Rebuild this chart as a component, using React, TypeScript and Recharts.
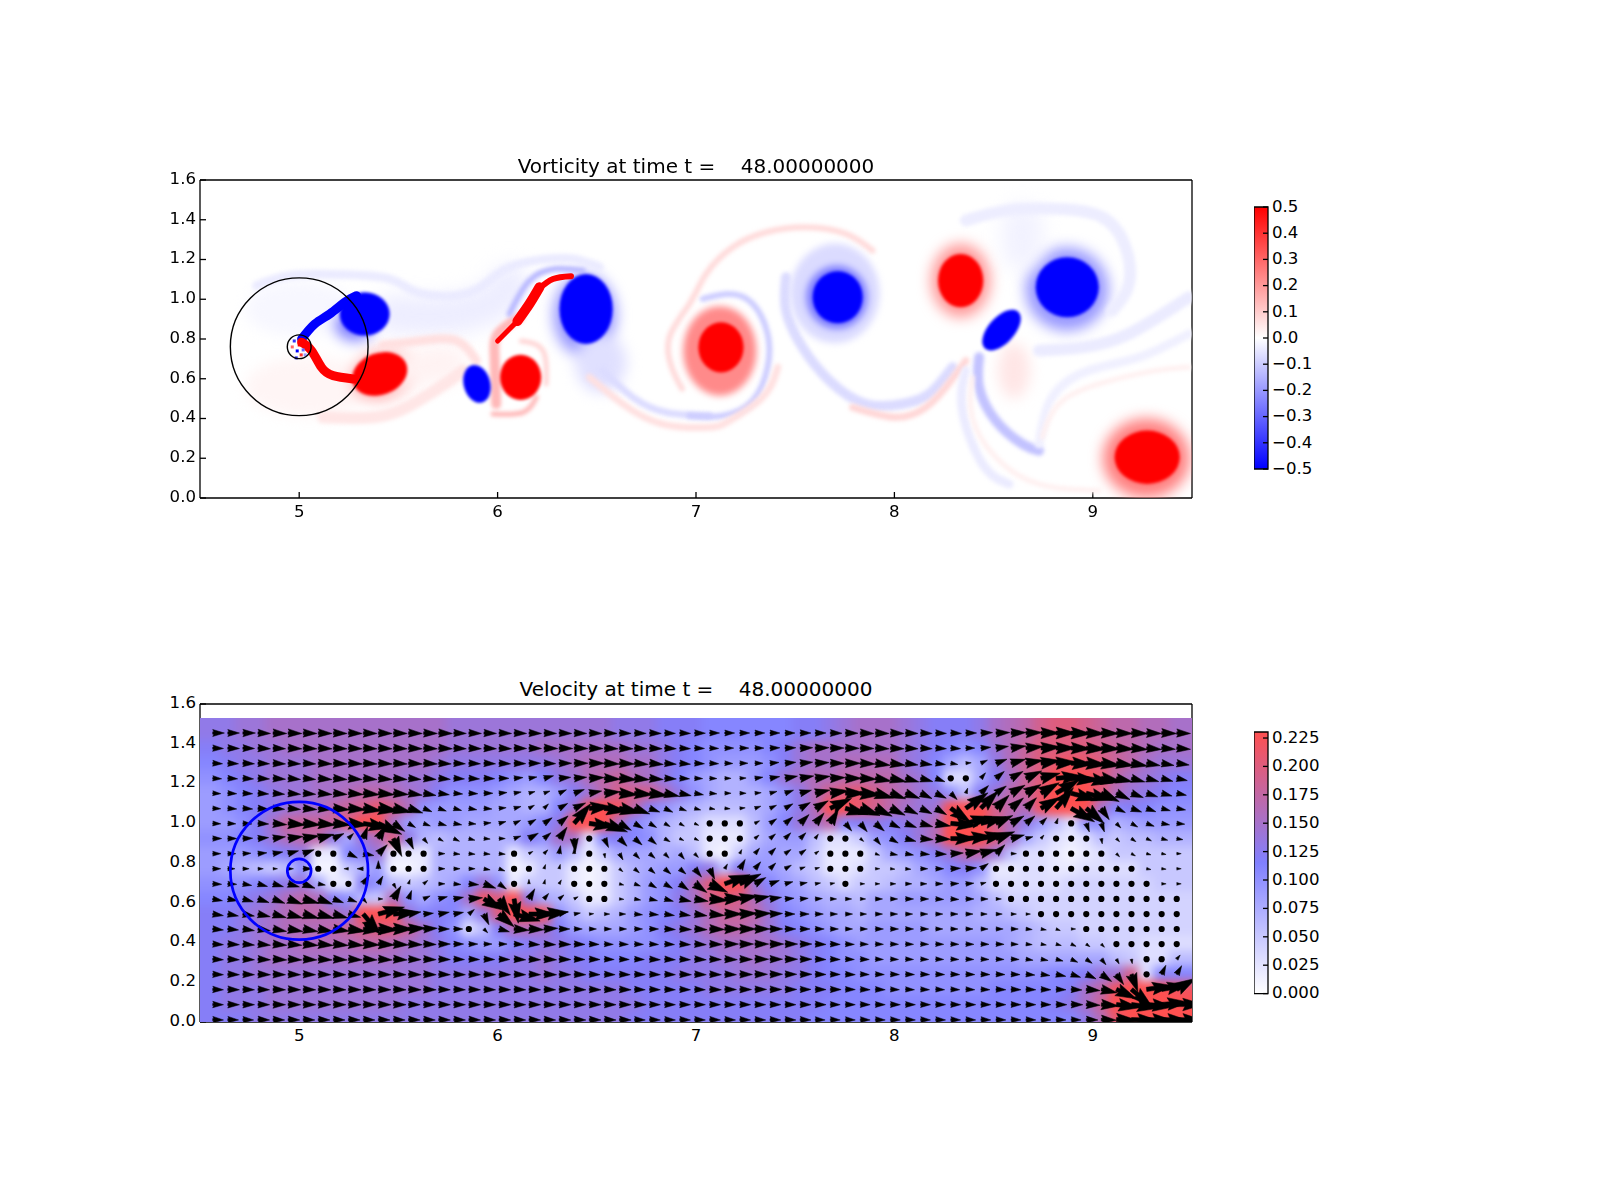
import React from 'react';
import { ScatterChart, Scatter, XAxis, YAxis, BarChart, Bar } from 'recharts';

const xTicks = [5, 6, 7, 8, 9];
const yTicks = [0, 0.2, 0.4, 0.6, 0.8, 1.0, 1.2, 1.4, 1.6];
const vortTicks = [-0.5, -0.4, -0.3, -0.2, -0.1, 0, 0.1, 0.2, 0.3, 0.4, 0.5];
const speedTicks = [0, 0.025, 0.05, 0.075, 0.1, 0.125, 0.15, 0.175, 0.2, 0.225];

// quiver grid
const colX = [
  4.564, 4.64, 4.716, 4.792, 4.868, 4.944, 5.02, 5.096, 5.172, 5.248, 5.323, 5.399, 5.475, 5.551, 5.627, 5.703, 5.779,
  5.855, 5.931, 6.007, 6.083, 6.158, 6.234, 6.31, 6.386, 6.462, 6.538, 6.614, 6.69, 6.766, 6.842, 6.918, 6.993, 7.069,
  7.145, 7.221, 7.297, 7.373, 7.449, 7.525, 7.601, 7.677, 7.753, 7.828, 7.904, 7.98, 8.056, 8.132, 8.208, 8.284, 8.36,
  8.436, 8.512, 8.588, 8.663, 8.739, 8.815, 8.891, 8.967, 9.043, 9.119, 9.195, 9.271, 9.347, 9.423,
];
const rowY = [1.454, 1.378, 1.302, 1.226, 1.151, 1.075, 0.999, 0.923, 0.847, 0.771, 0.695, 0.619, 0.543, 0.468, 0.392, 0.316, 0.24, 0.164, 0.088, 0.012];

// speed x 100, top row first
const speedRows = [
  [13,13,14,14,15,15,15,15,15,15,15,15,15,15,15,15,14,14,14,14,14,14, 14,14,14,14,14,13,13,13,12,12,12,11,11,11,11,11,11,12,12,13,14,15, 15,15,14,13,12,12,12,13,15,16,17,19,20,20,19,18,17,17,16,16,15],
  [12,13,13,14,14,15,15,15,15,15,15,15,15,15,15,15,14,14,14,14,14,14, 15,15,15,15,15,15,14,14,13,12,11,10,10,10,10,11,12,14,15,15,15,15, 15,15,14,13,12,11,10,11,14,16,18,20,20,20,20,19,18,17,16,15,15],
  [11,12,13,13,14,14,14,15,15,15,15,15,15,15,15,14,13,13,13,13,13,13, 13,14,15,16,16,16,15,15,13,12,11,10,9,9,9,10,12,14,15,15,16,16, 16,16,14,13,11,8,6,8,13,16,18,20,21,22,21,20,18,17,15,14,14],
  [10,11,12,13,14,14,14,15,15,15,15,15,15,14,14,13,12,12,12,11,10,9, 11,13,14,16,17,18,16,15,13,11,9,8,7,7,9,11,14,15,16,16,17,17, 17,17,15,14,11,3,3,8,12,15,18,20,26,26,26,21,17,15,14,13,12],
  [9,10,11,12,13,14,14,15,15,16,17,17,16,15,14,12,10,10,10,9,8,7, 7,9,12,14,17,19,19,19,16,13,10,8,7,7,7,8,10,13,16,19,20,21, 19,17,16,14,13,10,6,12,14,17,18,21,26,26,26,20,16,14,13,12,11],
  [9,10,11,12,13,14,15,15,17,18,19,21,19,16,10,9,9,9,9,8,8,7, 7,11,14,22,23,22,17,12,10,8,7,6,6,6,7,8,10,13,16,23,23,21, 19,17,15,14,14,24,26,24,19,17,16,22,26,26,23,15,11,12,11,10,10],
  [9,9,10,12,15,18,18,18,18,20,26,25,15,9,8,9,9,8,8,8,8,9, 11,13,25,25,24,15,11,9,7,6,5,3,3,3,6,9,11,14,15,17,11,12, 13,12,13,14,16,26,26,25,19,16,13,9,6,3,10,10,7,8,9,9,9],
  [10,10,11,12,14,16,17,17,13,8,14,16,20,13,7,6,7,7,7,7,8,12, 10,15,15,3,11,12,11,10,7,5,5,2,2,2,6,8,9,9,6,3,3,5, 9,10,12,14,16,25,26,25,20,15,8,5,3,2,3,6,5,6,6,7,7],
  [9,9,9,10,11,12,13,2,2,11,12,14,2,2,2,7,7,7,7,7,2,5, 6,9,6,2,5,8,8,8,7,8,6,2,1,5,8,9,8,8,5,2,2,2, 5,8,9,10,12,14,17,17,14,6,3,3,2,1,2,3,5,5,5,5,5],
  [9,8,7,6,5,6,10,1,1,5,7,9,1,1,2,7,7,7,7,7,1,2, 5,5,2,1,2,5,7,8,9,9,12,13,6,12,10,9,8,6,5,2,2,3, 5,5,6,8,9,11,12,10,2,2,3,3,2,2,3,3,3,3,5,5,5],
  [10,10,10,11,12,13,14,8,2,2,12,10,6,5,6,7,8,11,14,10,2,5, 5,5,2,1,2,5,7,9,10,12,16,20,26,23,14,11,9,8,6,5,3,5, 5,6,7,7,8,9,9,6,3,3,3,3,3,4,4,4,4,4,4,5,5],
  [11,11,12,13,14,16,17,16,12,10,6,5,16,10,8,10,11,15,22,20,24,13, 8,7,5,2,2,5,7,9,10,13,15,19,20,19,16,13,10,9,8,7,7,6, 8,8,9,9,9,9,9,8,6,4,4,4,4,4,4,4,4,4,4,4,4],
  [12,12,13,14,15,16,17,17,16,14,26,26,24,14,11,12,11,8,13,20,26,26, 24,10,7,5,6,7,9,10,11,12,14,16,18,18,17,14,11,10,9,8,8,7, 8,8,8,8,8,8,8,7,7,6,5,4,4,4,4,4,4,4,4,4,4],
  [12,12,13,14,15,16,16,16,17,18,19,20,20,18,15,12,10,3,6,12,16,16, 15,12,9,8,8,8,9,10,12,13,14,16,17,17,16,14,12,11,10,9,8,8, 9,9,9,9,8,8,8,8,8,8,7,6,5,5,4,4,4,4,4,4,4],
  [12,13,13,14,15,15,16,16,16,16,17,17,16,15,14,13,11,10,9,9,11,12, 13,13,12,11,10,10,10,10,11,12,13,14,15,15,15,15,14,13,12,11,10,9, 9,9,9,9,9,9,9,9,9,8,7,6,6,6,5,5,4,4,3,3,3],
  [12,13,13,14,15,15,15,15,15,15,15,15,15,14,14,13,12,12,12,12,13,13, 14,13,12,12,11,11,11,12,12,12,13,13,14,14,15,14,14,13,12,11,10,10, 9,9,9,9,9,9,9,9,9,9,8,8,8,8,8,8,6,5,3,3,6],
  [12,13,13,14,14,14,14,14,14,14,14,14,14,14,14,13,13,13,13,13,13,13, 14,13,13,12,12,12,12,12,12,13,13,13,13,14,14,14,13,13,12,11,11,10, 10,10,10,10,10,10,10,10,10,10,10,10,11,11,12,14,14,19,3,11,11],
  [12,13,13,13,14,14,14,14,14,14,14,14,14,14,14,13,13,13,13,13,13,13, 13,13,13,13,13,13,12,12,12,12,12,13,13,13,13,13,13,12,12,12,11,11, 11,10,10,10,10,10,10,10,11,11,11,11,11,12,15,17,22,26,26,26,22],
  [12,13,13,13,14,14,14,14,14,14,14,14,14,13,13,13,13,13,13,13,13,13, 13,13,13,13,13,13,13,12,12,12,12,12,12,12,12,12,12,12,12,11,11,11, 11,11,11,11,11,11,11,11,11,11,11,11,12,13,15,18,23,26,26,26,26],
  [12,12,12,13,13,13,13,13,13,13,13,13,13,13,13,13,13,13,13,13,13,13, 13,13,13,13,13,13,12,12,12,12,12,12,12,12,12,12,12,12,11,11,11,11, 11,11,11,11,11,11,11,11,11,11,11,11,11,11,13,16,21,26,26,26,26],
];

// arrow direction in degrees, 0 = to the right, top row first
const angleRows = [
  [0,0,0,-2,-2,-2,-2,-2,-2,-2,-2,-2,-2,-2,-2,-2,-2,-2,-2,-2,-2,-2, -2,-2,-2,-2,-2,-2,-2,-2,-2,-2,-1,0,0,0,0,0,0,0,0,-1,-1,-2, -2,-2,-2,-2,-2,-2,0,2,2,2,2,0,0,-2,-2,-2,-2,-2,-2,-2,-2],
  [-2,-2,-2,-3,-3,-3,-3,-3,-3,-3,-3,-3,-3,-3,-3,-3,-3,-3,-3,-3,-2,-2, -2,-2,-2,-2,-3,-3,-3,-3,-3,-3,-2,-2,0,0,0,2,2,2,2,0,-1,-2, -3,-3,-3,-3,-3,-3,0,5,8,8,5,3,0,-2,-3,-3,-4,-5,-5,-5,-5],
  [-3,-3,-3,-3,-3,-3,-3,-3,-3,-3,-3,-3,-3,-3,-3,-3,-3,-3,-3,-3,-2,0, -2,0,0,0,-3,-3,-5,-5,-5,-5,-3,-3,-2,0,0,5,5,5,3,0,0,-3, -8,-8,-8,-8,-8,-10,5,25,20,15,10,8,3,-3,-5,-7,-8,-10,-10,-10,-8],
  [-3,-3,-3,-3,-4,-5,-5,-5,-5,-5,-5,-5,-5,-5,-5,-5,-3,-3,-2,0,5,10, 15,5,5,3,-3,-5,-5,-5,-3,-3,-2,-2,0,3,8,10,10,10,8,3,0,-3, -10,-12,-15,-15,-20,0,0,50,40,30,25,15,5,-5,-10,-10,-12,-15,-15,-15,-12],
  [-3,-3,-3,-4,-5,-5,-5,-5,-5,-5,-5,-5,-5,-8,-10,-8,-5,-3,0,5,10,15, 20,25,20,10,5,-5,-5,-8,-12,-12,-10,-5,0,0,5,15,20,15,12,8,0,-5, -15,-20,-20,-25,-25,-45,70,45,35,30,30,30,30,-15,-15,-25,-25,-20,-18,-15,-12],
  [-3,-4,-4,-5,-5,-5,-5,-5,-5,-5,-8,-8,-12,-18,-22,-20,-15,-10,-5,5,15,30, 45,30,25,5,-8,-12,-20,-20,-25,-20,-15,-10,-5,5,20,25,30,30,30,25,-15,-20, -25,-25,-25,-25,-30,-35,35,45,45,40,45,30,50,-30,-40,-55,-25,-20,-20,-15,-10],
  [-3,-3,-3,-3,-5,-5,-5,-5,-5,-5,-10,-25,-35,-30,-20,-15,-10,-5,5,15,25,30, 35,40,50,-8,-20,-30,-30,-30,-30,-30,-25,0,0,0,30,35,40,45,50,60,-50,-50, -40,-25,-20,-15,-10,-5,15,15,25,30,40,45,70,0,-70,-70,-45,-30,-20,-10,-5],
  [0,0,2,5,8,8,10,15,25,45,70,60,-65,-65,-50,-30,-25,-15,-5,0,20,30, 40,55,-85,0,-65,-45,-40,-40,-30,-25,-25,0,0,0,40,40,45,45,55,0,0,-40, -50,-30,-15,-5,-3,0,5,10,20,15,15,50,0,0,0,-80,-45,-35,-25,-15,-10],
  [0,0,3,5,10,15,20,0,0,-25,-10,45,0,0,0,0,-5,-5,-5,-5,0,30, 45,80,90,0,-80,-60,-45,-40,-45,-50,-45,0,0,65,50,45,35,35,35,0,0,0, -20,-10,-10,-5,-3,3,10,15,45,0,0,0,0,0,0,0,-45,-30,-15,-10,0],
  [0,0,0,0,0,0,0,0,0,180,180,90,0,0,0,0,0,0,-10,-20,0,0, 70,75,0,0,0,-40,-40,-40,-40,-40,-50,-65,60,60,50,45,30,20,15,0,0,0, 0,-5,-5,0,0,3,5,35,0,0,0,0,0,0,0,0,0,0,-10,-5,0],
  [-3,-3,-10,-15,-15,-15,-20,-10,0,0,55,60,-60,70,40,0,-5,-5,-20,-35,0,90, 75,60,0,0,0,-15,-20,-30,-30,-35,-35,-25,20,25,30,20,15,10,10,10,0,0, 0,0,0,0,0,3,5,15,0,0,0,0,0,0,0,0,0,0,0,0,0],
  [-10,-10,-15,-18,-20,-20,-15,-20,-20,-20,-50,0,60,70,25,15,10,5,-30,-55,-80,60, 50,40,30,0,0,-5,-10,-12,-15,-12,-10,-5,3,10,10,8,5,5,3,0,0,0, 0,0,0,0,-3,-3,0,0,0,0,0,0,0,0,0,0,0,0,0,0,0],
  [-8,-10,-10,-12,-15,-15,-15,-15,-15,-15,-50,15,5,10,5,10,10,40,-65,-40,-15,0, 5,15,10,5,0,0,-5,-5,-8,-8,-8,-5,0,3,3,3,0,0,0,0,0,0, 0,0,0,0,0,0,0,0,0,0,0,0,0,0,0,0,0,0,0,0,0],
  [-5,-5,-8,-8,-10,-10,-10,-10,-8,-8,-5,-3,0,3,3,0,0,0,-45,-15,-5,-3, 3,0,0,0,0,0,0,0,-3,-3,-3,-2,0,0,0,0,0,0,0,0,0,0, 0,0,0,0,0,0,0,0,0,0,-5,-10,-20,0,0,0,0,0,0,0,0],
  [-3,-3,-5,-5,-5,-5,-5,-5,-5,-5,-3,-3,-3,-3,-2,0,0,0,0,0,-2,-3, -3,-2,-2,-2,-2,-2,-2,-3,-3,-3,-3,-2,0,0,0,0,0,0,-2,-2,-2,-2, -2,-2,-2,-2,-2,-2,-2,-2,-2,-2,-5,-10,-15,-25,-35,-45,0,0,0,0,0],
  [-3,-3,-3,-3,-3,-3,-3,-3,-3,-3,-3,-3,-3,-2,-2,-2,-2,-2,-2,-2,-3,-3, -3,-2,-2,-2,-2,-2,-2,-3,-3,-3,-3,-2,-2,-1,0,0,0,0,-2,-2,-2,-2, -2,-2,-2,-2,-2,-2,-2,-2,-2,-2,-8,-10,-15,-25,-35,-50,-60,-80,0,0,50],
  [-2,-2,-2,-2,-2,-2,-2,-2,-2,-2,-2,-2,-2,-2,-2,-2,-2,-2,-2,-2,-2,-2, -2,-2,-2,-2,-2,-2,-2,-2,-2,-2,-2,-2,-2,-1,0,0,0,0,-1,-1,-2,-2, -2,-2,-2,-2,-2,-2,-2,-2,-2,-2,-5,-8,-12,-18,-25,-35,-55,-70,0,65,60],
  [-2,-2,-2,-2,-2,-2,-2,-2,-2,-2,-2,-2,-2,-2,-2,-2,-2,-2,-2,-2,-2,-2, -2,-2,-2,-2,-2,-2,-2,-2,-2,-2,-2,-2,-1,-1,0,0,0,0,-1,-1,-1,-2, -2,-2,-2,-2,-2,-2,-2,-2,-2,-2,-2,-2,-2,-3,-5,-12,-25,-40,8,10,30],
  [-1,-1,-1,-1,-1,-1,-1,-1,-1,-1,-1,-1,-1,-1,-1,-1,-1,-1,-1,-1,-1,-1, -1,-1,-1,-1,-1,-1,-1,-1,-1,-1,-1,-1,-1,-1,-1,-1,-1,-1,-1,-1,-1,-1, -1,-1,-1,-1,-1,-1,-1,-1,-1,-1,-1,-1,-1,-1,-3,-5,-8,-8,-5,5,0],
  [-2,-2,-2,-2,-2,-2,-2,-2,-2,-2,-2,-2,-2,-2,-2,-2,-2,-2,-2,-2,-2,-2, -2,-2,-2,-2,-2,-2,-2,-2,-2,-2,-2,-2,-2,-2,-2,-2,-2,-2,-2,-2,-2,-2, -2,-2,-2,-2,-2,-2,-2,-2,-2,-2,-2,-2,-2,-2,-2,-2,-2,-2,-2,-2,-2],
];

// vorticity blobs in data units
const vortexHalos = [
  { x: 5.0, y: 0.95, rx: 0.27, ry: 0.14, rot: 0, v: -0.015 },
  { x: 5.05, y: 0.56, rx: 0.32, ry: 0.15, rot: 0, v: 0.02 },
  { x: 5.28, y: 0.87, rx: 0.1, ry: 0.08, rot: 0, v: -0.25 },
  { x: 5.42, y: 0.62, rx: 0.165, ry: 0.125, rot: 20, v: 0.15 },
  { x: 6.44, y: 0.92, rx: 0.16, ry: 0.21, rot: 0, v: -0.2 },
  { x: 6.52, y: 0.68, rx: 0.13, ry: 0.15, rot: 0, v: -0.06 },
  { x: 8.334, y: 1.094, rx: 0.15, ry: 0.185, rot: 0, v: 0.2 },
  { x: 8.87, y: 1.05, rx: 0.21, ry: 0.21, rot: 0, v: -0.2 },
  { x: 9.27, y: 0.2, rx: 0.22, ry: 0.2, rot: 0, v: 0.25 },
  { x: 8.603, y: 0.641, rx: 0.08, ry: 0.14, rot: 0, v: 0.05 },
];
const vortexRings = [
  { x: 7.12, y: 0.74, rx: 0.185, ry: 0.225, rot: 0, v: 0.23 },
  { x: 7.7, y: 1.03, rx: 0.225, ry: 0.25, rot: 0, v: -0.07 },
  { x: 7.71, y: 1.01, rx: 0.155, ry: 0.16, rot: 0, v: -0.25 },
];
const vortexCores = [
  { x: 5.33, y: 0.926, rx: 0.126, ry: 0.109, rot: 0, v: -0.5 },
  { x: 5.406, y: 0.624, rx: 0.143, ry: 0.105, rot: 20, v: 0.5 },
  { x: 5.896, y: 0.574, rx: 0.067, ry: 0.097, rot: 15, v: -0.5 },
  { x: 6.116, y: 0.607, rx: 0.104, ry: 0.114, rot: 0, v: 0.5 },
  { x: 6.446, y: 0.951, rx: 0.134, ry: 0.176, rot: 0, v: -0.5 },
  { x: 7.126, y: 0.758, rx: 0.114, ry: 0.126, rot: 0, v: 0.5 },
  { x: 7.714, y: 1.01, rx: 0.126, ry: 0.131, rot: 0, v: -0.5 },
  { x: 8.334, y: 1.094, rx: 0.114, ry: 0.134, rot: 0, v: 0.5 },
  { x: 8.871, y: 1.06, rx: 0.159, ry: 0.151, rot: 0, v: -0.5 },
  { x: 8.54, y: 0.845, rx: 0.125, ry: 0.066, rot: 48, v: -0.5 },
  { x: 9.274, y: 0.205, rx: 0.164, ry: 0.134, rot: 0, v: 0.5 },
];

// vorticity sheets
const wakeTop = [{ x: 4.785, y: 1.069 }, { x: 4.953, y: 1.119 }, { x: 5.205, y: 1.124 }, { x: 5.456, y: 1.102 }, { x: 5.591, y: 1.035 }, { x: 5.792, y: 1.018 }, { x: 5.926, y: 1.068 }, { x: 6.044, y: 1.153 }, { x: 6.211, y: 1.198 }, { x: 6.379, y: 1.203 }, { x: 6.513, y: 1.161 }];
const wakeFill = [{ x: 5.473, y: 0.926 }, { x: 5.725, y: 0.918 }, { x: 5.96, y: 0.977 }, { x: 6.06, y: 1.077 }];
const wrapC = [{ x: 6.06, y: 0.926 }, { x: 6.161, y: 1.094 }, { x: 6.295, y: 1.153 }, { x: 6.43, y: 1.144 }];
const tailThin = [{ x: 6.53, y: 0.641 }, { x: 6.681, y: 0.507 }, { x: 6.849, y: 0.431 }, { x: 7.067, y: 0.414 }];
const ringC = [{ x: 6.967, y: 0.414 }, { x: 7.135, y: 0.414 }, { x: 7.286, y: 0.49 }, { x: 7.361, y: 0.658 }, { x: 7.361, y: 0.826 }, { x: 7.286, y: 0.977 }, { x: 7.168, y: 1.027 }, { x: 7.034, y: 1.002 }];
const underTail = [{ x: 6.463, y: 0.607 }, { x: 6.631, y: 0.473 }, { x: 6.832, y: 0.372 }, { x: 7.067, y: 0.356 }, { x: 7.168, y: 0.389 }, { x: 7.336, y: 0.507 }, { x: 7.412, y: 0.658 }];
const outerArc = [{ x: 6.93, y: 0.55 }, { x: 6.88, y: 0.65 }, { x: 6.866, y: 0.809 }, { x: 6.967, y: 0.977 }, { x: 7.051, y: 1.128 }, { x: 7.185, y: 1.262 }, { x: 7.353, y: 1.337 }, { x: 7.554, y: 1.362 }, { x: 7.756, y: 1.329 }, { x: 7.89, y: 1.245 }];
const swirlD = [{ x: 7.454, y: 1.111 }, { x: 7.454, y: 0.943 }, { x: 7.537, y: 0.758 }, { x: 7.672, y: 0.591 }, { x: 7.856, y: 0.473 }, { x: 8.041, y: 0.473 }, { x: 8.175, y: 0.523 }, { x: 8.293, y: 0.658 }];
const underSwirl = [{ x: 7.789, y: 0.456 }, { x: 8.007, y: 0.406 }, { x: 8.158, y: 0.456 }, { x: 8.259, y: 0.557 }, { x: 8.36, y: 0.691 }];
const sliverTail = [{ x: 8.427, y: 0.708 }, { x: 8.427, y: 0.557 }, { x: 8.511, y: 0.389 }, { x: 8.645, y: 0.272 }, { x: 8.729, y: 0.238 }];
const sliverOuter = [{ x: 8.36, y: 0.641 }, { x: 8.343, y: 0.44 }, { x: 8.444, y: 0.171 }, { x: 8.578, y: 0.07 }];
const sliverRed = [{ x: 8.393, y: 0.607 }, { x: 8.393, y: 0.406 }, { x: 8.511, y: 0.205 }, { x: 8.729, y: 0.07 }, { x: 9.031, y: 0.037 }];
const rightBand = [{ x: 8.729, y: 0.742 }, { x: 8.947, y: 0.758 }, { x: 9.182, y: 0.826 }, { x: 9.484, y: 1.01 }];
const overE = [{ x: 8.36, y: 1.396 }, { x: 8.561, y: 1.446 }, { x: 8.812, y: 1.455 }, { x: 9.047, y: 1.413 }, { x: 9.165, y: 1.262 }, { x: 9.182, y: 1.077 }, { x: 9.098, y: 0.943 }];
const overEFill = [{ x: 8.645, y: 1.38 }, { x: 8.645, y: 1.25 }];
const sweepBlue = [{ x: 8.729, y: 0.272 }, { x: 8.796, y: 0.507 }, { x: 8.98, y: 0.641 }, { x: 9.232, y: 0.708 }, { x: 9.484, y: 0.826 }];
const sweepRed = [{ x: 8.745, y: 0.305 }, { x: 8.829, y: 0.473 }, { x: 9.031, y: 0.574 }, { x: 9.316, y: 0.641 }, { x: 9.484, y: 0.658 }];
const lowerWake = [{ x: 5.121, y: 0.406 }, { x: 5.372, y: 0.406 }, { x: 5.54, y: 0.456 }, { x: 5.708, y: 0.557 }, { x: 5.826, y: 0.641 }];
const lowerTop = [{ x: 5.423, y: 0.767 }, { x: 5.624, y: 0.792 }, { x: 5.792, y: 0.792 }, { x: 5.893, y: 0.691 }];
const lowerFill = [{ x: 5.5, y: 0.64 }, { x: 5.75, y: 0.68 }];
const underB = [{ x: 5.977, y: 0.423 }, { x: 6.128, y: 0.431 }, { x: 6.195, y: 0.507 }];
const leftOfS = [{ x: 5.993, y: 0.473 }, { x: 5.985, y: 0.708 }, { x: 6.002, y: 0.826 }, { x: 6.111, y: 0.909 }];
const rightOfB = [{ x: 6.245, y: 0.574 }, { x: 6.228, y: 0.742 }, { x: 6.12, y: 0.79 }];
const sheetUpper = [{ x: 5.012, y: 0.8 }, { x: 5.079, y: 0.876 }, { x: 5.154, y: 0.926 }, { x: 5.23, y: 0.985 }, { x: 5.289, y: 1.018 }];
const sheetLower = [{ x: 5.012, y: 0.784 }, { x: 5.062, y: 0.742 }, { x: 5.112, y: 0.658 }, { x: 5.171, y: 0.616 }, { x: 5.272, y: 0.599 }];
const sheetSFoot = [{ x: 6.0, y: 0.79 }, { x: 6.06, y: 0.85 }, { x: 6.11, y: 0.9 }];
const sheetSBody = [{ x: 6.1, y: 0.89 }, { x: 6.161, y: 0.977 }, { x: 6.211, y: 1.06 }];
const sheetSTip = [{ x: 6.205, y: 1.05 }, { x: 6.279, y: 1.102 }, { x: 6.37, y: 1.116 }];

const fillSheets = [
  { line: wakeFill, v: -0.035, w: 38 },
  { line: lowerFill, v: 0.025, w: 36 },
  { line: overEFill, v: -0.025, w: 40 },
];
const paleSheets = [
  { line: wakeTop, v: -0.04, w: 9 },
  { line: tailThin, v: -0.07, w: 7 },
  { line: ringC, v: -0.1, w: 6 },
  { line: underTail, v: 0.06, w: 7 },
  { line: outerArc, v: 0.07, w: 6 },
  { line: swirlD, v: -0.07, w: 10 },
  { line: underSwirl, v: 0.08, w: 7 },
  { line: sliverTail, v: -0.12, w: 10 },
  { line: sliverOuter, v: -0.04, w: 9 },
  { line: sliverRed, v: 0.03, w: 5 },
  { line: rightBand, v: -0.04, w: 12 },
  { line: overE, v: -0.035, w: 12 },
  { line: sweepBlue, v: -0.03, w: 9 },
  { line: sweepRed, v: 0.03, w: 5 },
  { line: lowerWake, v: 0.05, w: 12 },
  { line: lowerTop, v: 0.06, w: 9 },
  { line: underB, v: 0.14, w: 5 },
  { line: leftOfS, v: 0.14, w: 10 },
  { line: rightOfB, v: 0.08, w: 5 },
  { line: wrapC, v: -0.14, w: 6 },
];
const strongSheets = [
  { line: sheetUpper, v: -0.5, w: 9 },
  { line: sheetLower, v: 0.5, w: 9 },
  { line: sheetSFoot, v: 0.5, w: 5 },
  { line: sheetSBody, v: 0.5, w: 10 },
  { line: sheetSTip, v: 0.5, w: 6 },
];
const cylinderNoise = [
  { x: 4.975, y: 0.79, v: -0.4 }, { x: 4.99, y: 0.74, v: -0.5 }, { x: 5.01, y: 0.72, v: 0.4 }, { x: 4.965, y: 0.76, v: 0.3 },
  { x: 5.02, y: 0.745, v: -0.3 }, { x: 4.985, y: 0.705, v: -0.4 }, { x: 5.0, y: 0.77, v: 0.5 }, { x: 5.03, y: 0.72, v: -0.2 },
];

const outerCircle = [{ x: 5, y: 0.761, r: 0.347 }];
const innerCircle = [{ x: 5, y: 0.761, r: 0.06 }];

const vortBarValue = [{ name: 'w', range: [-0.5, 0.5] }];
const speedBarValue = [{ name: 's', range: [0, 0.2303] }];
const speedStops = [
  { at: 0, c: [255, 255, 255] },
  { at: 0.115, c: [128, 128, 255] },
  { at: 0.2303, c: [255, 80, 80] },
];

const FONT = '"DejaVu Sans", sans-serif';
const PX_X = 198.4;
const PX_Y = 198.75;
const ARROW_W = 4.2;
const ARROW_K = 90;

const tickStyle = { fontFamily: FONT, fontSize: 16.6, fill: '#000' };
const axisLine = { stroke: '#000', strokeWidth: 1.3 };

const bwr = (v: number) => {
  const c = Math.round(255 * (1 - Math.min(1, Math.abs(v) / 0.5)));
  return v >= 0 ? `rgb(255,${c},${c})` : `rgb(${c},${c},255)`;
};

const speedColor = (s: number) => {
  const clamped = Math.min(s, 0.2303);
  const i = clamped < speedStops[1].at ? 0 : 1;
  const a = speedStops[i];
  const b = speedStops[i + 1];
  const t = (clamped - a.at) / (b.at - a.at);
  return `rgb(${a.c.map((ch, k) => Math.round(ch + (b.c[k] - ch) * t)).join(',')})`;
};

const quiverPoints = rowY.flatMap((y, j) =>
  colX.map((x, c) => ({
    x,
    y,
    c,
    j,
    speed: (speedRows[j][c] ?? 10) / 100,
    angle: angleRows[j][c] ?? 0,
  })),
);

const HeatCell = ({ cx, cy, payload }: any) => {
  const left = payload.c === 0 ? 40 : 0;
  const right = payload.c === colX.length - 1 ? 40 : 0;
  const top = payload.j === 0 ? 50 : 0;
  const bottom = payload.j === rowY.length - 1 ? 40 : 0;
  const half = 0.0759 / 2;
  return (
    <rect
      x={cx - half * PX_X - left - 0.5}
      y={cy - half * PX_Y - top - 0.5}
      width={half * 2 * PX_X + left + right + 1}
      height={half * 2 * PX_Y + top + bottom + 1}
      fill={speedColor(payload.speed)}
    />
  );
};

// fast arrows run longer than the colour scale suggests
const arrowLength = (s: number) => s * ARROW_K + Math.max(0, s - 0.14) * 30;

const Arrow = ({ cx, cy, payload }: any) => {
  if (payload.speed <= 0.04) return <circle cx={cx} cy={cy} r={3.1} fill="#000" />;
  const L = arrowLength(payload.speed);
  const s = Math.min(1, L / (5 * ARROW_W));
  const w = ARROW_W * s;
  const d = [
    [0, -w / 2],
    [L - 4.5 * w, -w / 2],
    [L - 5 * w, -1.5 * w],
    [L, 0],
    [L - 5 * w, 1.5 * w],
    [L - 4.5 * w, w / 2],
    [0, w / 2],
  ]
    .map((p) => p.join(','))
    .join(' ');
  return <polygon points={d} fill="#000" stroke="#000" strokeWidth={0.5} transform={`translate(${cx} ${cy}) rotate(${-payload.angle})`} />;
};

const Blob = ({ cx, cy, payload }: any) => (
  <ellipse
    cx={cx}
    cy={cy}
    rx={payload.rx * PX_X}
    ry={payload.ry * PX_Y}
    fill={bwr(payload.v)}
    transform={`rotate(${-payload.rot} ${cx} ${cy})`}
  />
);

const NoisePixel = ({ cx, cy, payload }: any) => <rect x={cx - 1.5} y={cy - 1.5} width={3} height={3} fill={bwr(payload.v)} />;

const Ring = (color: string, width: number) => ({ cx, cy, payload }: any) => (
  <circle cx={cx} cy={cy} r={payload.r * PX_X} fill="none" stroke={color} strokeWidth={width} />
);

const NoMark = () => <g />;

const xTop = { xAxisId: 'top', orientation: 'top' as const };
const axes = [
  <XAxis key="xb" dataKey="x" type="number" domain={[4.5, 9.5]} ticks={xTicks} height={30} tickSize={-6} tickMargin={13} tick={tickStyle} tickLine={axisLine} axisLine={axisLine} />,
  <XAxis key="xt" {...xTop} type="number" domain={[4.5, 9.5]} ticks={xTicks} height={1} tickSize={-6} tickFormatter={() => ''} tickLine={axisLine} axisLine={axisLine} />,
  <YAxis key="yl" dataKey="y" type="number" domain={[0, 1.6]} ticks={yTicks} width={60} tickSize={-6} tickMargin={10} tick={{ ...tickStyle, dy: -2 }} tickLine={axisLine} axisLine={axisLine} tickFormatter={(v: number) => v.toFixed(1)} />,
  <YAxis key="yr" yAxisId="right" orientation="right" type="number" domain={[0, 1.6]} ticks={yTicks} width={1} tickSize={-6} tickFormatter={() => ''} tickLine={axisLine} axisLine={axisLine} />,
];

// 20px of head room above the frame so the 1.6 label is not cut
const chartProps = { width: 1060, height: 378, margin: { top: 29, right: 7, left: 0, bottom: 0 } };

const sheetLine = (s: any) => ({ stroke: bwr(s.v), strokeWidth: s.w, strokeLinecap: 'round', fill: 'none' });

const VorticityChart = () => (
  <ScatterChart {...chartProps}>
    <Scatter data={vortexHalos} shape={Blob} className="vort-halo" isAnimationActive={false} />
    {fillSheets.map((s, i) => (
      <Scatter key={i} data={s.line} shape={NoMark} line={sheetLine(s)} lineType="joint" lineJointType="natural" className="vort-halo" isAnimationActive={false} />
    ))}
    {paleSheets.map((s, i) => (
      <Scatter key={i} data={s.line} shape={NoMark} line={sheetLine(s)} lineType="joint" lineJointType="natural" className="vort-soft" isAnimationActive={false} />
    ))}
    <Scatter data={vortexRings} shape={Blob} className="vort-ring" isAnimationActive={false} />
    <Scatter data={vortexCores} shape={Blob} className="vort-core" isAnimationActive={false} />
    {strongSheets.map((s, i) => (
      <Scatter key={i} data={s.line} shape={NoMark} line={sheetLine(s)} lineType="joint" lineJointType="natural" isAnimationActive={false} />
    ))}
    <Scatter data={cylinderNoise} shape={NoisePixel} isAnimationActive={false} />
    <Scatter data={outerCircle} shape={Ring('#000', 1.4)} isAnimationActive={false} />
    <Scatter data={innerCircle} shape={Ring('#000', 1.4)} isAnimationActive={false} />
    {axes}
  </ScatterChart>
);

const VelocityChart = () => (
  <ScatterChart {...chartProps}>
    <Scatter data={quiverPoints} shape={HeatCell} className="vel-heat" isAnimationActive={false} />
    <Scatter data={quiverPoints} shape={Arrow} className="vel-arrows" isAnimationActive={false} />
    <Scatter data={outerCircle} shape={Ring('#0000ff', 2.7)} isAnimationActive={false} />
    <Scatter data={innerCircle} shape={Ring('#0000ff', 2.7)} isAnimationActive={false} />
    {axes}
  </ScatterChart>
);

const ColorBar = ({ data, domain, ticks, gradient, format, height }: any) => (
  <BarChart width={94} height={height + 20} data={data} margin={{ top: 10, right: 0, left: 0, bottom: 10 }} barCategoryGap={0}>
    <defs>{gradient}</defs>
    <XAxis dataKey="name" hide />
    <YAxis orientation="right" type="number" domain={domain} ticks={ticks} width={80} axisLine={false} tickSize={-5} tickMargin={9} tick={{ ...tickStyle, dy: -1 }} tickLine={axisLine} tickFormatter={format} interval={0} />
    <Bar dataKey="range" fill={`url(#${gradient.props.id})`} stroke="#000" strokeWidth={1.3} isAnimationActive={false} />
  </BarChart>
);

const minusLabel = (digits: number) => (v: number) => v.toFixed(digits).replace('-', '\u2212');

const vortGradient = (
  <linearGradient id="vortGrad" x1="0" y1="0" x2="0" y2="1">
    <stop offset="0%" stopColor="#ff0000" />
    <stop offset="50%" stopColor="#ffffff" />
    <stop offset="100%" stopColor="#0000ff" />
  </linearGradient>
);
const speedGradient = (
  <linearGradient id="speedGrad" x1="0" y1="0" x2="0" y2="1">
    <stop offset="0%" stopColor="rgb(255,80,80)" />
    <stop offset="50%" stopColor="rgb(128,128,255)" />
    <stop offset="100%" stopColor="#ffffff" />
  </linearGradient>
);

const titleStyle: React.CSSProperties = {
  position: 'absolute',
  left: 200,
  width: 992,
  textAlign: 'center',
  whiteSpace: 'pre',
  fontFamily: FONT,
  fontSize: 20,
  lineHeight: '24px',
  color: '#000',
};

const css = `
.vort-halo { filter: url(#blurWide); clip-path: url(#vortClip); }
.vort-ring { filter: url(#blurRing); clip-path: url(#vortClip); }
.vort-soft { filter: url(#blurSoft); clip-path: url(#vortClip); }
.vort-core { filter: url(#blurCore); clip-path: url(#vortClip); }
.vel-heat { filter: url(#blurHeat); clip-path: url(#velHeatClip); }
.vel-arrows { clip-path: url(#vortClip); }
`;

const blurFilter = (id: string, sd: number) => (
  <filter id={id} filterUnits="userSpaceOnUse" x={-100} y={-100} width={1400} height={600} colorInterpolationFilters="sRGB">
    <feGaussianBlur stdDeviation={sd} />
  </filter>
);

export default function App() {
  return (
    <div style={{ position: 'absolute', left: 0, top: 0, width: 1600, height: 1200, background: '#fff', overflow: 'hidden' }}>
      <style>{css}</style>
      <svg width={0} height={0} style={{ position: 'absolute' }}>
        <defs>
          {blurFilter('blurWide', 7)}
          {blurFilter('blurRing', 3.5)}
          {blurFilter('blurSoft', 1.6)}
          {blurFilter('blurCore', 1.8)}
          {blurFilter('blurHeat', 5)}
          <clipPath id="vortClip">
            <rect x={60} y={30} width={992} height={318} />
          </clipPath>
          <clipPath id="velHeatClip">
            <rect x={60} y={43.9} width={992} height={304.1} />
          </clipPath>
        </defs>
      </svg>
      <div style={{ position: 'absolute', left: 140, top: 150 }}>
        <VorticityChart />
      </div>
      <div style={{ ...titleStyle, top: 154 }}>{'Vorticity at time t =    48.00000000'}</div>
      <div style={{ position: 'absolute', left: 1254, top: 197.3 }}>
        <ColorBar data={vortBarValue} domain={[-0.5, 0.5]} ticks={vortTicks} gradient={vortGradient} format={minusLabel(1)} height={262} />
      </div>
      <div style={{ position: 'absolute', left: 140, top: 673.5 }}>
        <VelocityChart />
      </div>
      <div style={{ ...titleStyle, top: 677 }}>{'Velocity at time t =    48.00000000'}</div>
      <div style={{ position: 'absolute', left: 1254, top: 721.7 }}>
        <ColorBar data={speedBarValue} domain={[0, 0.2303]} ticks={speedTicks} gradient={speedGradient} format={minusLabel(3)} height={261.6} />
      </div>
    </div>
  );
}
